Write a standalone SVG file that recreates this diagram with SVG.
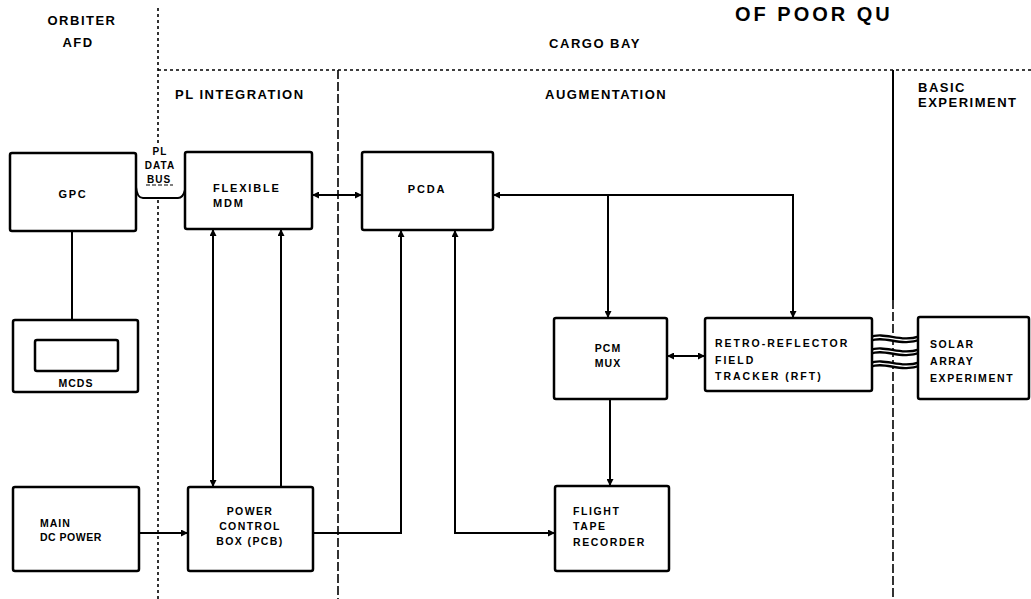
<svg xmlns="http://www.w3.org/2000/svg" width="1031" height="599" viewBox="0 0 1031 599">
<defs>
<marker id="ah" viewBox="0 0 10 10" refX="10" refY="5" markerWidth="9" markerHeight="7" markerUnits="userSpaceOnUse" orient="auto-start-reverse"><path d="M0,0 L10,5 L0,10 z" fill="#000"/></marker>
<style>
.box{fill:#fff;stroke:#000;stroke-width:2.5}
.t{font-family:"Liberation Sans",Arial,sans-serif;font-weight:bold;font-size:11px;letter-spacing:1.8px;fill:#000}
.h{font-family:"Liberation Sans",Arial,sans-serif;font-weight:bold;font-size:13px;letter-spacing:1.5px;fill:#000}
.s{font-size:10.5px;letter-spacing:1.6px}
.c{fill:none;stroke:#000;stroke-width:2}
.d1{fill:none;stroke:#000;stroke-width:1.6;stroke-dasharray:3 3}
.d2{fill:none;stroke:#000;stroke-width:1.6;stroke-dasharray:9 3}
.cab{fill:none;stroke:#000;stroke-width:6}
.cabi{fill:none;stroke:#fff;stroke-width:1.3}
</style>
</defs>
<rect width="1031" height="599" fill="#fff"/>
<text x="735" y="21" style="font-family:'Liberation Sans',Arial,sans-serif;font-weight:bold;font-size:20px;letter-spacing:3px">OF POOR QU</text>
<g id="dividers">
<path class="d1" d="M158,8 V145 M158,200 V599"/>
<path class="d1" d="M158,70 H1031"/>
<path class="d2" d="M338,70 V599"/>
<path d="M893,70 V300" stroke="#000" stroke-width="2"/>
<path class="d2" d="M893,300 V599"/>
</g>
<g id="labels">
<text class="h" x="82" y="25" text-anchor="middle">ORBITER</text>
<text class="h" x="78" y="47" text-anchor="middle">AFD</text>
<text class="h" x="595" y="48" text-anchor="middle">CARGO BAY</text>
<text class="h" x="175" y="99">PL INTEGRATION</text>
<text class="h" x="545" y="99">AUGMENTATION</text>
<text class="h" x="918" y="92">BASIC</text>
<text class="h" x="918" y="107">EXPERIMENT</text>
</g>
<g id="connectors">
<path class="c" d="M136,187 Q137,198 143,198 H178 Q183,198 185,190"/>
<path d="M146,185 H173" stroke="#000" stroke-width="1.2" stroke-dasharray="4 2"/>
<path class="c" d="M72,231 V320"/>
<path class="c" d="M312,195 H362" marker-start="url(#ah)" marker-end="url(#ah)"/>
<path class="c" d="M493,195 H793 V318" marker-start="url(#ah)" marker-end="url(#ah)"/>
<path class="c" d="M608,195 V318" marker-end="url(#ah)"/>
<path class="c" d="M213,229 V487" marker-start="url(#ah)" marker-end="url(#ah)"/>
<path class="c" d="M281,487 V229" marker-end="url(#ah)"/>
<path class="c" d="M139,533 H188" marker-end="url(#ah)"/>
<path class="c" d="M313,533 H401 V230" marker-end="url(#ah)"/>
<path class="c" d="M455,230 V533 H555" marker-start="url(#ah)" marker-end="url(#ah)"/>
<path class="c" d="M667,356 H705" marker-start="url(#ah)" marker-end="url(#ah)"/>
<path class="c" d="M610,399 V486" marker-end="url(#ah)"/>
<g id="cables">
<path class="cab" d="M870,339 C885,333 900,345 920,338"/>
<path class="cabi" d="M870,339 C885,333 900,345 920,338"/>
<path class="cab" d="M870,352 C885,346 900,358 920,351"/>
<path class="cabi" d="M870,352 C885,346 900,358 920,351"/>
<path class="cab" d="M870,365 C885,359 900,371 920,364"/>
<path class="cabi" d="M870,365 C885,359 900,371 920,364"/>
</g>
</g>
<g id="bus-label">
<text class="t" x="160" y="155" text-anchor="middle" style="font-size:10px;letter-spacing:1px">PL</text>
<text class="t" x="160" y="169" text-anchor="middle" style="font-size:10px;letter-spacing:1px">DATA</text>
<text class="t" x="159" y="183" text-anchor="middle" style="font-size:10px;letter-spacing:1px">BUS</text>
</g>
<g id="gpc"><rect class="box" x="10" y="153" width="126" height="78" rx="2"/><text class="t" x="73" y="198" text-anchor="middle">GPC</text></g>
<g id="mcds"><rect class="box" x="13" y="320" width="125" height="72" rx="2"/><rect class="box" x="35" y="340" width="83" height="31" rx="2"/><text class="t s" x="76" y="387" text-anchor="middle" style="letter-spacing:1px">MCDS</text></g>
<g id="mdm"><rect class="box" x="185" y="152" width="127" height="77" rx="2"/><text class="t" x="213" y="192">FLEXIBLE</text><text class="t" x="213" y="207">MDM</text></g>
<g id="pcda"><rect class="box" x="362" y="152" width="131" height="78" rx="2"/><text class="t" x="427" y="193" text-anchor="middle">PCDA</text></g>
<g id="pcmmux"><rect class="box" x="554" y="318" width="113" height="81" rx="2"/><text class="t s" x="608" y="352" text-anchor="middle" style="letter-spacing:1px">PCM</text><text class="t s" x="608" y="367" text-anchor="middle" style="letter-spacing:1px">MUX</text></g>
<g id="rft"><rect class="box" x="705" y="318" width="167" height="73" rx="2"/><text class="t s" x="715" y="347" style="letter-spacing:2px">RETRO-REFLECTOR</text><text class="t s" x="715" y="364" style="letter-spacing:2px">FIELD</text><text class="t s" x="715" y="380" style="letter-spacing:2px">TRACKER (RFT)</text></g>
<g id="solar"><rect class="box" x="918" y="317" width="111" height="82" rx="2"/><text class="t s" x="930" y="348">SOLAR</text><text class="t s" x="930" y="365">ARRAY</text><text class="t s" x="930" y="382">EXPERIMENT</text></g>
<g id="maindc"><rect class="box" x="13" y="487" width="126" height="84" rx="2"/><text class="t s" x="40" y="527" style="letter-spacing:1px">MAIN</text><text class="t s" x="40" y="541" style="letter-spacing:0.5px">DC POWER</text></g>
<g id="pcu"><rect class="box" x="188" y="487" width="125" height="84" rx="2"/><text class="t s" x="250" y="515" text-anchor="middle" style="letter-spacing:1.4px">POWER</text><text class="t s" x="250" y="530" text-anchor="middle" style="letter-spacing:1.4px">CONTROL</text><text class="t s" x="250" y="545" text-anchor="middle" style="letter-spacing:1.4px">BOX (PCB)</text></g>
<g id="ftr"><rect class="box" x="555" y="486" width="114" height="85" rx="2"/><text class="t s" x="573" y="515">FLIGHT</text><text class="t s" x="573" y="530">TAPE</text><text class="t s" x="573" y="546">RECORDER</text></g>
</svg>
